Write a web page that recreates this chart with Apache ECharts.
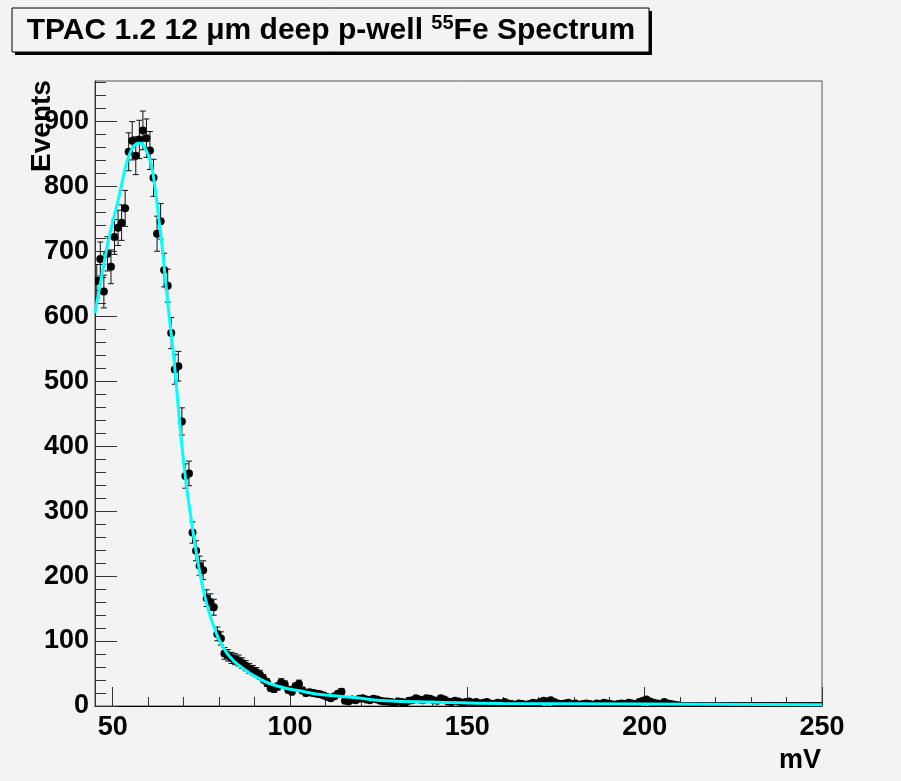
<!DOCTYPE html>
<html>
<head>
<meta charset="utf-8">
<script src="https://cdn.jsdelivr.net/npm/echarts@6/dist/echarts.min.js"></script>
<style>
html,body{margin:0;padding:0;background:#f3f3f3;}
#chart{width:901px;height:781px;}
</style>
</head>
<body>
<div id="chart"></div>
<script>
// Histogram: 1 mV bins from 45 to 250 mV
var binLow = 45;
var binWidth = 1;
var counts = [
 654,688,638,696,676,722,736,744,766,853,
 870,847,872,886,874,855,813,727,746,671,
 647,574,518,523,438,354,358,267,239,216,
 209,166,160,152,111,104,81,78,74,72,
 70,66,62,58,55,52,48,42,36,28,
 26,30,36,33,25,22,30,34,24,20,
 21,20,19,18,16,14,12,15,19,22,
 8,7,10,9,11,12,10,9,11,10,
 8,7,7,
 6,5,7,6,5,8,9,12,10,9,
 12,11,9,8,12,10,7,6,8,7,
 5,6,7,5,6,4,5,6,4,3,
 5,4,6,4,3,2,4,3,2,3,
 5,4,6,8,7,9,6,4,3,4,
 5,3,4,2,3,4,3,2,4,3,
 5,4,3,2,3,4,3,5,4,3,
 6,8,10,7,5,4,3,6,4,3,
 2,1,
 0,0,0,0,0,0,0,0,0,0,
 0,0,0,0,0,0,0,0,0,0,
 0,0,0,0,0,0,0,0,0,0,
 0,0,0,0,0,0,0,0,0,0
];
// Fit curve
var fitX = [45,46,47,48,49,50,51,52,53,54,55,56,57,58,59,60,61,62,63,64,65,66,67,68,69,70,71,72,73,74,75,76,77,78,79,80,82,84,86,88,90,94,99,104,108,118,127,140,160,200,250];
var fitY = [605,635,665,695,722,745,767,790,815,838,853,862,866,866,860,848,830,795,750,703,648,596,548,490,428,375,330,292,255,222,193,168,148,130,115,102,83,70,61,53,46,35,27,22,18,13,8,6,4,3,2];
var xLabels = [50,100,150,200,250];
var xMinor = [50,60,70,80,90,100,110,120,130,140,150,160,170,180,190,200,210,220,230,240,250];
var yLabels = [0,100,200,300,400,500,600,700,800,900];
var yMinor = [];
for (var v = 0; v <= 960; v += 20) yMinor.push(v);

var pts = counts.map(function (c, i) {
  return [binLow + binWidth * (i + 0.5), c, Math.sqrt(c)];
});
var fitData = fitX.map(function (x, i) { return [x, fitY[i]]; });

var FONT = 'Liberation Sans, Arial, sans-serif';
var chart = echarts.init(document.getElementById('chart'), null, {renderer: 'canvas'});
var option = {
  backgroundColor: '#f3f3f3',
  animation: false,
  grid: {left: 95, right: 79, top: 81, bottom: 75, show: true, borderColor: '#555', borderWidth: 1, backgroundColor: 'transparent'},
  xAxis: [{
    type: 'value', min: 45, max: 250, position: 'bottom',
    axisLine: {show: true, onZero: false, lineStyle: {color: '#000', width: 1}},
    axisTick: {show: true, inside: true, length: 19, customValues: xLabels, lineStyle: {color: '#333'}},
    axisLabel: {show: true, customValues: xLabels, fontSize: 27, fontWeight: 'bold', color: '#000', fontFamily: FONT, margin: 8},
    splitLine: {show: false}
  }, {
    type: 'value', min: 45, max: 250, position: 'bottom',
    axisLine: {show: false, onZero: false},
    axisTick: {show: true, inside: true, length: 9, customValues: xMinor, lineStyle: {color: '#333'}},
    axisLabel: {show: false},
    splitLine: {show: false}
  }],
  yAxis: [{
    type: 'value', min: 0, max: 962, position: 'left',
    axisLine: {show: true, onZero: false, lineStyle: {color: '#333', width: 1}},
    axisTick: {show: true, inside: true, length: 22, customValues: yLabels, lineStyle: {color: '#333'}},
    axisLabel: {show: true, customValues: yLabels, fontSize: 27, fontWeight: 'bold', color: '#000', fontFamily: FONT, margin: 6},
    splitLine: {show: false}
  }, {
    type: 'value', min: 0, max: 962, position: 'left',
    axisLine: {show: false, onZero: false},
    axisTick: {show: true, inside: true, length: 11, customValues: yMinor, lineStyle: {color: '#333'}},
    axisLabel: {show: false},
    splitLine: {show: false}
  }],
  series: [{
    type: 'custom',
    xAxisIndex: 0, yAxisIndex: 0,
    clip: true,
    data: pts,
    encode: {x: 0, y: 1},
    renderItem: function (params, api) {
      var x = api.value(0), y = api.value(1), e = api.value(2);
      var p = api.coord([x, y]);
      var t = api.coord([x, y + e]);
      var b = api.coord([x, y - e]);
      var st = {stroke: '#111', lineWidth: 1};
      var children = [
        {type: 'line', shape: {x1: p[0], y1: t[1], x2: p[0], y2: b[1]}, style: st},
        {type: 'line', shape: {x1: p[0] - 3, y1: t[1], x2: p[0] + 3, y2: t[1]}, style: st},
        {type: 'line', shape: {x1: p[0] - 3, y1: b[1], x2: p[0] + 3, y2: b[1]}, style: st},
        {type: 'circle', shape: {cx: p[0], cy: p[1], r: 4}, style: {fill: '#000'}}
      ];
      return {type: 'group', children: children};
    },
    z: 2
  }, {
    type: 'line',
    xAxisIndex: 0, yAxisIndex: 0,
    data: fitData,
    smooth: 0.4,
    showSymbol: false,
    clip: true,
    lineStyle: {color: '#00ffff', width: 3},
    z: 3
  }],
  graphic: [
    {type: 'rect', shape: {x: 15, y: 11, width: 637, height: 44}, style: {fill: '#000'}, z: 10},
    {type: 'rect', shape: {x: 12, y: 8, width: 637, height: 44}, style: {fill: '#f3f3f3', stroke: '#000', lineWidth: 1}, z: 11},
    {type: 'text', x: 331, y: 31, z: 12, style: {
      text: '{a|TPAC 1.2 12 \u03bcm deep p-well }{s|55}{a|Fe Spectrum}',
      align: 'center', verticalAlign: 'middle',
      rich: {
        a: {fontSize: 30, fontWeight: 'bold', fontFamily: FONT, fill: '#000'},
        s: {fontSize: 20, fontWeight: 'bold', fontFamily: FONT, fill: '#000', padding: [0, 0, 15, 0]}
      }
    }},
    {type: 'text', x: 42, y: 126, rotation: Math.PI / 2, z: 12, style: {
      text: 'Events', fontSize: 28, fontWeight: 'bold', fontFamily: FONT, fill: '#000', align: 'center', verticalAlign: 'middle'
    }},
    {type: 'text', x: 821, y: 761, z: 12, style: {
      text: 'mV', fontSize: 27, fontWeight: 'bold', fontFamily: FONT, fill: '#000', align: 'right', verticalAlign: 'middle'
    }}
  ]
};
chart.setOption(option);
</script>
</body>
</html>
